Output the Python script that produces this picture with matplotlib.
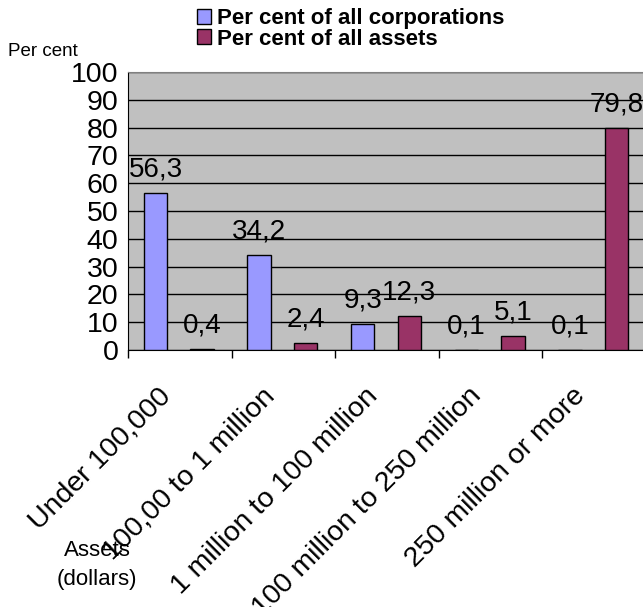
import matplotlib

matplotlib.use("Agg")
import matplotlib.pyplot as plt
import matplotlib.transforms as mtransforms
import numpy as np
from matplotlib.patches import Patch

categories = [
    "Under 100,000",
    "100,00 to 1 million",
    "1 million to 100 million",
    "100 million to 250 million",
    "250 million or more",
]
pct_corporations = [56.3, 34.2, 9.3, 0.1, 0.1]
pct_assets = [0.4, 2.4, 12.3, 5.1, 79.8]
series_names = ["Per cent of all corporations", "Per cent of all assets"]
y_ticks = list(range(0, 101, 10))

plt.rcParams["font.family"] = ["Liberation Sans", "DejaVu Sans"]

W, H = 643, 607
fig = plt.figure(figsize=(W / 100, H / 100), dpi=100)
left, top, bottom = 128, 72, 350
ax = fig.add_axes([left / W, 1 - bottom / H, (646 - left) / W, (bottom - top) / H])

x = np.arange(len(categories))
bw = 0.225
blue, plum = "#9999FF", "#993366"
b1 = ax.bar(x + 0.265, pct_corporations, bw, color=blue, edgecolor="black",
            linewidth=1, zorder=3)
b2 = ax.bar(x + 0.715, pct_assets, bw, color=plum, edgecolor="black",
            linewidth=1, zorder=3)

for bars, vals in ((b1, pct_corporations), (b2, pct_assets)):
    for r, v in zip(bars, vals):
        ax.annotate(f"{v:.1f}".replace(".", ","),
                    (r.get_x() + r.get_width() / 2, v),
                    xytext=(0, 12), textcoords="offset points",
                    ha="center", va="baseline", fontsize=20, zorder=4,
                    annotation_clip=False)

ax.set_facecolor("#C0C0C0")
ax.set_xlim(0, len(categories))
ax.set_ylim(0, 100)
ax.set_yticks(y_ticks)
ax.yaxis.grid(True, color="black", linewidth=1, zorder=1)
ax.set_axisbelow(True)
ax.tick_params(axis="y", length=0, pad=7, labelsize=20.5)
ax.set_xticks(np.arange(len(categories) + 1))
ax.set_xticklabels([])
ax.tick_params(axis="x", length=6, width=1, direction="out")
ax.spines["right"].set_visible(False)
ax.spines["top"].set_color("#808080")
for s in ("left", "bottom"):
    ax.spines[s].set_color("black")

# rotated category labels, anchored below each category centre
off = mtransforms.ScaledTranslation(-22 / 100, -33 / 100, fig.dpi_scale_trans)
for xc, lab in zip(x + 0.5, categories):
    ax.text(xc, 0, lab, transform=ax.get_xaxis_transform() + off,
            rotation=45, rotation_mode="anchor", ha="right", va="top",
            fontsize=20.5)

fig.text(97 / W, 1 - 550 / H, "Assets", ha="center", va="center", fontsize=16)
fig.text(97 / W, 1 - 579 / H, "(dollars)", ha="center", va="center", fontsize=16)
fig.text(8 / W, 1 - 51 / H, "Per cent", ha="left", va="center", fontsize=13.5)

handles = [Patch(facecolor=blue, edgecolor="black"),
           Patch(facecolor=plum, edgecolor="black")]
fig.legend(handles, series_names, loc="upper left",
           bbox_to_anchor=(197 / W, 1 - 8 / H), frameon=False,
           prop={"weight": "bold", "size": 16}, handlelength=0.65,
           handleheight=0.65, handletextpad=0.25, labelspacing=-0.02,
           borderpad=0, borderaxespad=0)

fig.savefig("out.png", dpi=100, facecolor="white")
